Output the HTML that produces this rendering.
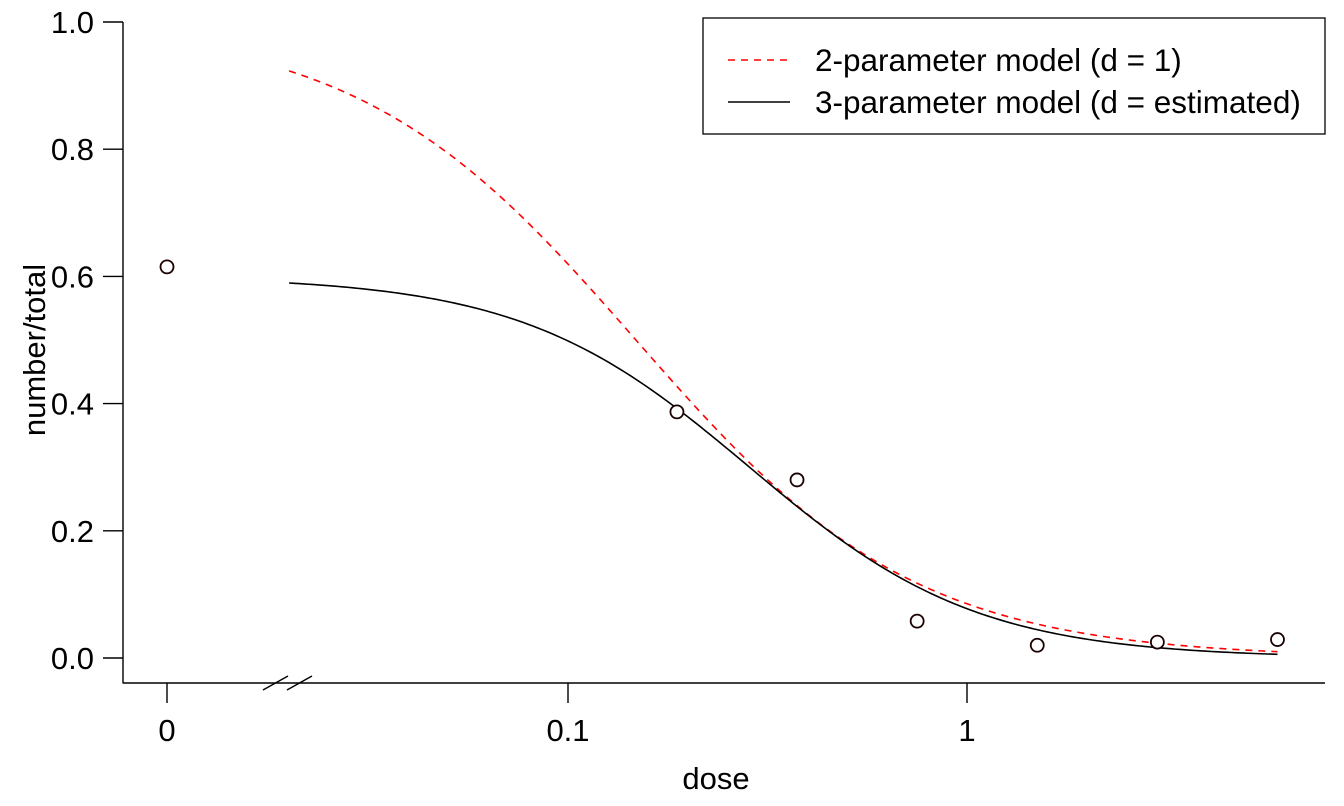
<!DOCTYPE html>
<html><head><meta charset="utf-8"><style>
html,body{margin:0;padding:0;background:#fff;}
svg{display:block;font-family:"Liberation Sans",Arial,sans-serif;}
</style></head><body>
<svg id="chart" width="1344" height="806" viewBox="0 0 1344 806">
<g id="axes"></g>
<g id="curves"></g>
<g id="points"></g>
<g>
<rect x="703" y="18" width="622" height="116" fill="#fff" stroke="#000" stroke-width="1.3"/>
<line x1="728" y1="60" x2="790" y2="60" stroke="#f00" stroke-width="1.6" stroke-dasharray="7,6"/>
<text x="815" y="71" font-size="31.5">2-parameter model (d = 1)</text>
<line x1="728" y1="102" x2="790" y2="102" stroke="#000" stroke-width="1.6"/>
<text x="815" y="113" font-size="31.5">3-parameter model (d = estimated)</text>
</g>
<text x="716" y="789" font-size="31" text-anchor="middle">dose</text>
<text transform="translate(45,350) rotate(-90)" font-size="31" text-anchor="middle">number/total</text>
</svg>
<script>
const doses = [0, 0.1875, 0.375, 0.75, 1.5, 3, 6];
const props = [0.615, 0.387, 0.28, 0.058, 0.02, 0.025, 0.029];
const yTicks = [0, 0.2, 0.4, 0.6, 0.8, 1.0];
const yTickLabels = ["0.0", "0.2", "0.4", "0.6", "0.8", "1.0"];
const xTicks = [0.1, 1];
const xTickLabels = ["0.1", "1"];
const model2 = [1.242, 0.148, 1];      // b, e, d
const model3 = [1.52, 0.285, 0.600];   // b, e, d
const curveRange = [0.02, 6];

const NS = "http://www.w3.org/2000/svg";
function yS(v){ return 658 - v * 636; }
function xS(d){ return d === 0 ? 167 : 568 + 399 * (Math.log10(d) + 1); }
function mk(tag, attrs, parent){
  const e = document.createElementNS(NS, tag);
  for (const k in attrs) e.setAttribute(k, attrs[k]);
  parent.appendChild(e); return e;
}
const axes = document.getElementById('axes');
const ya = mk('line', {x1:123, y1:yS(1), x2:123, y2:683.5, stroke:'#000','stroke-width':1.4}, axes);


yTicks.forEach((t, i) => {
  const l = mk('line', {x1:103, y1:yS(t), x2:123, y2:yS(t), stroke:'#000','stroke-width':1.4}, axes);
  
  
  const tx = mk('text', {x:94, y:yS(t)+11, 'font-size':31, 'text-anchor':'end'}, axes);
  tx.textContent = yTickLabels[i];
  
  
});
const xa = mk('line', {x1:123, y1:683, x2:1325, y2:683, stroke:'#000','stroke-width':1.4}, axes);


[[263,690,288,676],[287,690,312,676]].forEach(s => {
  const b = mk('line', {x1:s[0], y1:s[1], x2:s[2], y2:s[3], stroke:'#000','stroke-width':1.4}, axes);
  
  
});
function xTick(d, label){
  const l = mk('line', {x1:xS(d), y1:683, x2:xS(d), y2:703, stroke:'#000','stroke-width':1.4}, axes);
  
  
  const tx = mk('text', {x:xS(d), y:741, 'font-size':31, 'text-anchor':'middle'}, axes);
  tx.textContent = label;
  
  
}
xTick(0, "0");
xTicks.forEach((t, i) => xTick(t, xTickLabels[i]));
function ll(p, x){ return p[2] / (1 + Math.exp(p[0] * (Math.log(x) - Math.log(p[1])))); }
function curvePath(p){
  const a = Math.log10(curveRange[0]), b = Math.log10(curveRange[1]);
  let s = '';
  for (let i = 0; i <= 300; i++){
    const x = Math.pow(10, a + (b - a) * i / 300);
    s += (i ? 'L' : 'M') + xS(x).toFixed(2) + ',' + yS(ll(p, x)).toFixed(2);
  }
  return s;
}
const cg = document.getElementById('curves');
const c2 = mk('path', {d:curvePath(model2), fill:'none', stroke:'#f00','stroke-width':1.6,'stroke-dasharray':'7,6'}, cg);


const c3 = mk('path', {d:curvePath(model3), fill:'none', stroke:'#000','stroke-width':1.6}, cg);


const pg = document.getElementById('points');
doses.forEach((d, i) => {
  const c = mk('circle', {cx:xS(d), cy:yS(props[i]), r:6.5, fill:'#fff', stroke:'#1a0000','stroke-width':1.8}, pg);
  
  
});
</script>
</body></html>
